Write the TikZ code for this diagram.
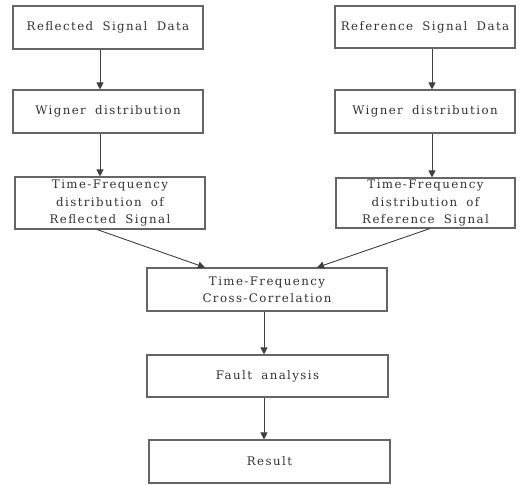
\documentclass[tikz,border=0pt]{standalone}
\usepackage{fontspec}
\setmainfont{DejaVu Serif}[LetterSpace=12,WordSpace=1.8]
\usetikzlibrary{arrows.meta}
\begin{document}
\begin{tikzpicture}[x=1pt,y=-1pt,
  box/.style={draw=black!60, line width=1.1pt, fill=white, rectangle, align=center,
    font=\fontsize{11.8}{17.5}\selectfont, text=black!80, inner sep=0pt},
  arr/.style={draw=black!75, line width=0.9pt, -{Triangle[length=7pt,width=7pt]}}]
\useasboundingbox (0,0) rectangle (526,484);
\node[box, minimum width=190, minimum height=43] (L1) at (108,27.5) {Reflected Signal Data};
\node[box, minimum width=190, minimum height=43] (L2) at (108,111.5) {Wigner distribution};
\node[box, minimum width=190, minimum height=52] (L3) at (110,203) {Time-Frequency\\distribution of\\Reflected Signal};
\node[box, minimum width=180, minimum height=42] (R1) at (425,27) {Reference Signal Data};
\node[box, minimum width=180, minimum height=43] (R2) at (425,111.5) {Wigner distribution};
\node[box, minimum width=179, minimum height=50] (R3) at (425.5,203) {Time-Frequency\\distribution of\\Reference Signal};
\node[box, minimum width=240, minimum height=43] (C1) at (267,289.5) {Time-Frequency\\Cross-Correlation};
\node[box, minimum width=241, minimum height=42] (C2) at (267.5,376) {Fault analysis};
\node[box, minimum width=241, minimum height=43] (C3) at (269.5,461.5) {Result};
\draw[arr] ([xshift=-8pt]L1.south) -- ([xshift=-8pt]L2.north);
\draw[arr] ([xshift=-8pt]L2.south) -- ([xshift=-10pt]L3.north);
\draw[arr] ([xshift=7pt]R1.south) -- ([xshift=7pt]R2.north);
\draw[arr] ([xshift=7pt]R2.south) -- ([xshift=6.5pt]R3.north);
\draw[arr] ([xshift=-13pt]L3.south) -- ([xshift=-62pt]C1.north);
\draw[arr] ([xshift=4.5pt]R3.south) -- ([xshift=50pt]C1.north);
\draw[arr] ([xshift=-3pt]C1.south) -- ([xshift=-3.5pt]C2.north);
\draw[arr] ([xshift=-3.5pt]C2.south) -- ([xshift=-5.5pt]C3.north);
\end{tikzpicture}
\end{document}
